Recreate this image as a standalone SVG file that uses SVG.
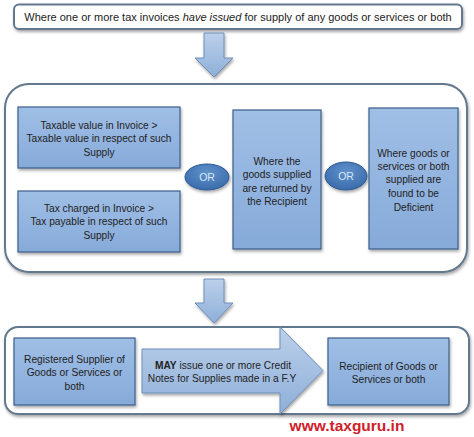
<svg xmlns="http://www.w3.org/2000/svg" width="474" height="437" viewBox="0 0 474 437">
<defs>
<linearGradient id="gBox" x1="0" y1="0" x2="0" y2="1">
<stop offset="0" stop-color="#a0bfe6"/>
<stop offset="1" stop-color="#86aad9"/>
</linearGradient>
<linearGradient id="gArrow" x1="0" y1="0" x2="0" y2="1">
<stop offset="0" stop-color="#bcd0ea"/>
<stop offset="1" stop-color="#8eafd9"/>
</linearGradient>
<radialGradient id="gOr" cx="0.5" cy="0.35" r="0.7">
<stop offset="0" stop-color="#5f92cc"/>
<stop offset="1" stop-color="#3768a8"/>
</radialGradient>
<filter id="sh" x="-10%" y="-10%" width="130%" height="140%">
<feDropShadow dx="1" dy="2" stdDeviation="1.5" flood-color="#000" flood-opacity="0.35"/>
</filter>
</defs>
<style>
.cont{fill:#fff;stroke:#62788c;stroke-width:2}
.box{fill:url(#gBox);stroke:#3d5f8a;stroke-width:1.2}
.arr{fill:url(#gArrow);stroke:#6f8fb7;stroke-width:1}
.or{fill:url(#gOr);stroke:#2d5a92;stroke-width:1}
text{font-family:"Liberation Sans",Arial,sans-serif;font-size:10.2px;fill:#222;text-anchor:middle}
.ttl{font-size:11px}
.ort{fill:#d9e6f5;font-size:10.5px}
.web{fill:#d0202a;font-weight:bold;font-size:15.5px}
</style>
<rect width="474" height="437" fill="#fff"/>

<g id="top">
<rect class="cont" x="14" y="4.5" width="448" height="24.5" rx="5" filter="url(#sh)"/>
<text class="ttl" x="238" y="20.8">Where one or more tax invoices <tspan font-style="italic">have issued</tspan> for supply of any goods or services or both</text>
</g>

<g id="connectors">
<path class="arr" d="M204,33 H224 V58 H233 L214,77 L195,58 H204 Z" filter="url(#sh)"/>
<path class="arr" d="M204,279 H224 V303 H233 L214,323 L195,303 H204 Z" filter="url(#sh)"/>
</g>

<g id="conditions">
<rect class="cont" x="5" y="84" width="462" height="188" rx="24" filter="url(#sh)"/>
</g>

<g id="taxable">
<rect class="box" x="18" y="107" width="162" height="61" filter="url(#sh)"/>
<text x="99" y="128.5">Taxable value in Invoice &gt;</text>
<text x="99" y="142">Taxable value in respect of such</text>
<text x="99" y="155.5">Supply</text>
</g>

<g id="taxcharged">
<rect class="box" x="18" y="191" width="162" height="61" filter="url(#sh)"/>
<text x="99" y="211.5">Tax charged in Invoice &gt;</text>
<text x="99" y="225">Tax payable in respect of such</text>
<text x="99" y="239">Supply</text>
</g>

<g id="or1">
<ellipse class="or" cx="207" cy="177" rx="22" ry="13" filter="url(#sh)"/>
<text class="ort" x="207" y="180.5">OR</text>
</g>

<g id="returned">
<rect class="box" x="233" y="110" width="88" height="139" filter="url(#sh)"/>
<text x="277" y="164.5">Where the</text>
<text x="277" y="178">goods supplied</text>
<text x="277" y="191.5">are returned by</text>
<text x="277" y="205">the Recipient</text>
</g>

<g id="or2">
<ellipse class="or" cx="346" cy="176" rx="21" ry="14" filter="url(#sh)"/>
<text class="ort" x="346" y="179.5">OR</text>
</g>

<g id="deficient">
<rect class="box" x="369" y="108" width="89" height="141" filter="url(#sh)"/>
<text x="413.5" y="156.5">Where goods or</text>
<text x="413.5" y="170">services or both</text>
<text x="413.5" y="183">supplied are</text>
<text x="413.5" y="196.5">found to be</text>
<text x="413.5" y="210.5">Deficient</text>
</g>

<g id="bottom">
<rect class="cont" x="5" y="327" width="464" height="87" rx="13" filter="url(#sh)"/>
</g>

<g id="supplier">
<rect class="box" x="14" y="338" width="121" height="67" filter="url(#sh)"/>
<text x="74.5" y="362.5">Registered Supplier of</text>
<text x="74.5" y="376">Goods or Services or</text>
<text x="74.5" y="389.5">both</text>
</g>

<g id="issue">
<path class="arr" d="M142,349 H280 V327 L323,370.5 L280,414 V393 H142 Z" filter="url(#sh)"/>
<text x="223" y="368.5"><tspan font-weight="bold">MAY</tspan> issue one or more Credit</text>
<text x="222" y="382">Notes for Supplies made in a F.Y</text>
</g>

<g id="recipient">
<rect class="box" x="328" y="338" width="121" height="67" filter="url(#sh)"/>
<text x="388.5" y="369.5">Recipient of Goods or</text>
<text x="388.5" y="383">Services or both</text>
</g>

<g id="website">
<text class="web" x="347" y="431">www.taxguru.in</text>
</g>
</svg>
